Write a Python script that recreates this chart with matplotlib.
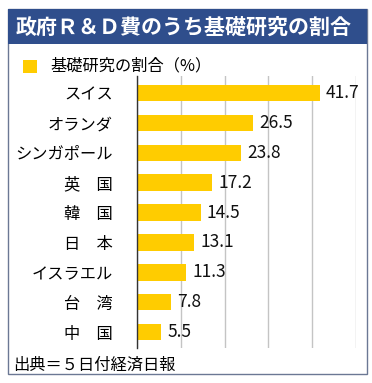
import matplotlib.pyplot as plt
from matplotlib.patches import Rectangle

plt.rcParams['font.family'] = ['Noto Sans CJK JP', 'DejaVu Sans']

countries = ['スイス', 'オランダ', 'シンガポール', '英\u3000国', '韓\u3000国',
             '日\u3000本', 'イスラエル', '台\u3000湾', '中\u3000国']
shares = [41.7, 26.5, 23.8, 17.2, 14.5, 13.1, 11.3, 7.8, 5.5]
xticks = [0, 10, 20, 30, 40, 50]

title = '政府Ｒ＆Ｄ費のうち基礎研究の割合'
legend_label = '基礎研究の割合（%）'
source = '出典＝５日付経済日報'

W, H = 372, 383
fig = plt.figure(figsize=(W / 100, H / 100), dpi=100)


def px(x, y):
    # image pixel coords (y down) -> figure fraction
    return x / W, 1 - y / H


# outer frame
fig.patches.append(Rectangle(px(8, 374), 359 / W, 365 / H, transform=fig.transFigure,
                             facecolor='white', edgecolor='#6B7894', linewidth=1.0, zorder=0))
# title banner
fig.patches.append(Rectangle(px(8, 44), 359 / W, 35 / H, transform=fig.transFigure,
                             facecolor='#2F4E8C', edgecolor='none', zorder=1))
fig.text(*px(16, 27), title, color='white', fontsize=15.1, fontweight='bold',
         ha='left', va='center')

# legend
fig.patches.append(Rectangle(px(23, 73), 14 / W, 13 / H, transform=fig.transFigure,
                             facecolor='#FFCC00', edgecolor='none'))
fig.text(*px(50, 66), legend_label, fontsize=11.7, ha='left', va='center')

# source
fig.text(*px(13, 365), source, fontsize=11.7, ha='left', va='center')

left, right = 137, 356
top, bottom = 76, 348
ax = fig.add_axes([left / W, 1 - bottom / H, (right - left) / W, (bottom - top) / H])
ax.set_zorder(5)
ax.patch.set_alpha(0)

ypos = list(range(len(countries)))
ax.barh(ypos, shares, height=0.55, color='#FFCC00', zorder=2)
for y, v in zip(ypos, shares):
    ax.annotate(f'{v}', (v, y), xytext=(4.5, 0), textcoords='offset points',
                ha='left', va='center', fontsize=12.5, color='#111111')

ax.set_xlim(0, 50)
ax.set_ylim(len(countries) - 0.47, -0.57)
ax.set_xticks(xticks)
ax.xaxis.grid(True, color='#C4C4C4', linewidth=1.0)
ax.set_axisbelow(True)
ax.tick_params(axis='x', length=0, labelbottom=False)
ax.tick_params(axis='y', length=0, pad=17.5)
ax.set_yticks(ypos)
ax.set_yticklabels(countries, fontsize=11.7)
for s in ['top', 'right', 'bottom']:
    ax.spines[s].set_visible(False)
ax.spines['left'].set_color('#333333')
ax.spines['left'].set_linewidth(1.0)

fig.savefig('out.png', dpi=100)
